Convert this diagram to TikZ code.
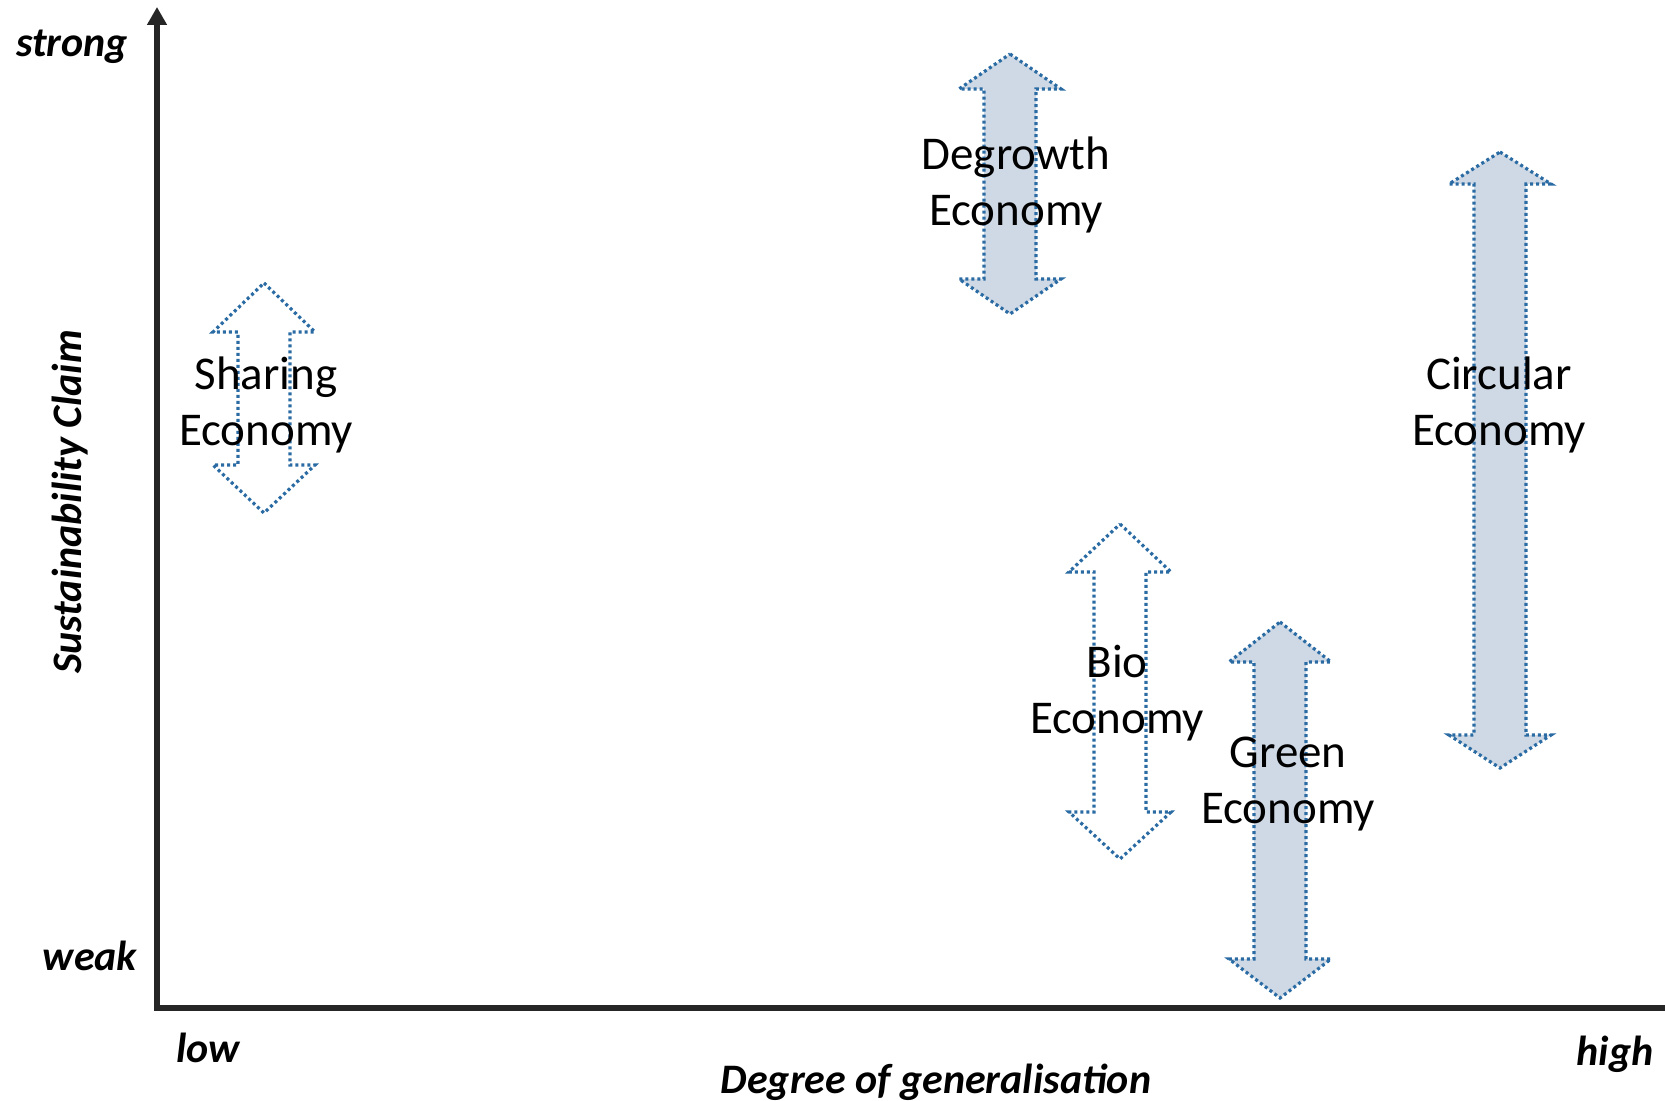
\documentclass[tikz,border=0pt]{standalone}
\usepackage{fontspec}
\setmainfont{Carlito}
\usetikzlibrary{arrows.meta}
\definecolor{dotblue}{HTML}{2A6BA3}
\definecolor{arrowfill}{HTML}{CFD9E5}
\definecolor{axisgrey}{HTML}{262626}
\tikzset{
  econfilled/.style={draw=dotblue, fill=arrowfill, line width=1.6pt, dash pattern=on 1.5pt off 1.5pt, line join=miter},
  econopen/.style={draw=dotblue, fill=white, line width=1.6pt, dash pattern=on 1.5pt off 1.5pt, line join=miter},
  econlabel/.style={align=center, font=\fontsize{23.5pt}{28pt}\selectfont, inner sep=0pt},
  axislabel/.style={font=\fontsize{21pt}{25pt}\selectfont\bfseries\itshape, inner sep=0pt},
  axisline/.style={draw=axisgrey, line width=2.8pt}
}
% #1 style, #2 centre x, #3 top tip, #4 top head base, #5 bottom head base, #6 bottom tip
\newcommand{\econarrow}[6]{%
  \path[#1] (#2,#3) -- (#2+51,#4) -- (#2+26,#4) -- (#2+26,#5) -- (#2+51,#5) -- (#2,#6)
    -- (#2-51,#5) -- (#2-26,#5) -- (#2-26,#4) -- (#2-51,#4) -- cycle;}
\begin{document}
\begin{tikzpicture}[x=0.5pt,y=-0.5pt]
\useasboundingbox (0,0) rectangle (1665,1101);
% axes
\coordinate (xend) at (1665,1008);
\coordinate (origin) at (157,1008);
\coordinate (ytip) at (157,7);
\draw[axisline, -{Triangle[length=9pt,width=9.5pt]}] (xend) -- (origin) -- (ytip);
% axis labels
\node[axislabel, anchor=base] (strong) at (72,57) {strong};
\node[axislabel, anchor=base] (weak) at (90,970) {weak};
\node[axislabel, anchor=base] (low) at (208,1062) {low};
\node[axislabel, anchor=base] (high) at (1615,1065) {high};
\node[axislabel, anchor=base] (xlabel) at (936,1093) {Degree of generalisation};
\node[axislabel, rotate=90] (ylabel) at (70,502) {Sustainability Claim};
% double arrows
\econarrow{econfilled}{1010}{54}{89}{279}{314}
\econarrow{econopen}{264}{283}{332}{465}{513}
\econarrow{econopen}{1120}{524}{572}{812}{859}
\econarrow{econfilled}{1280}{622}{662}{959}{998}
\econarrow{econfilled}{1500}{152}{184}{735}{768}
% labels
\node[econlabel] (degrowth) at (1016,185) {Degrowth\\Economy};
\node[econlabel] (sharing) at (266,405) {Sharing\\Economy};
\node[econlabel] (bio) at (1117,693) {Bio\\Economy};
\node[econlabel] (green) at (1288,784) {Green\\Economy};
\node[econlabel] (circular) at (1499,405) {Circular\\Economy};
\end{tikzpicture}
\end{document}
